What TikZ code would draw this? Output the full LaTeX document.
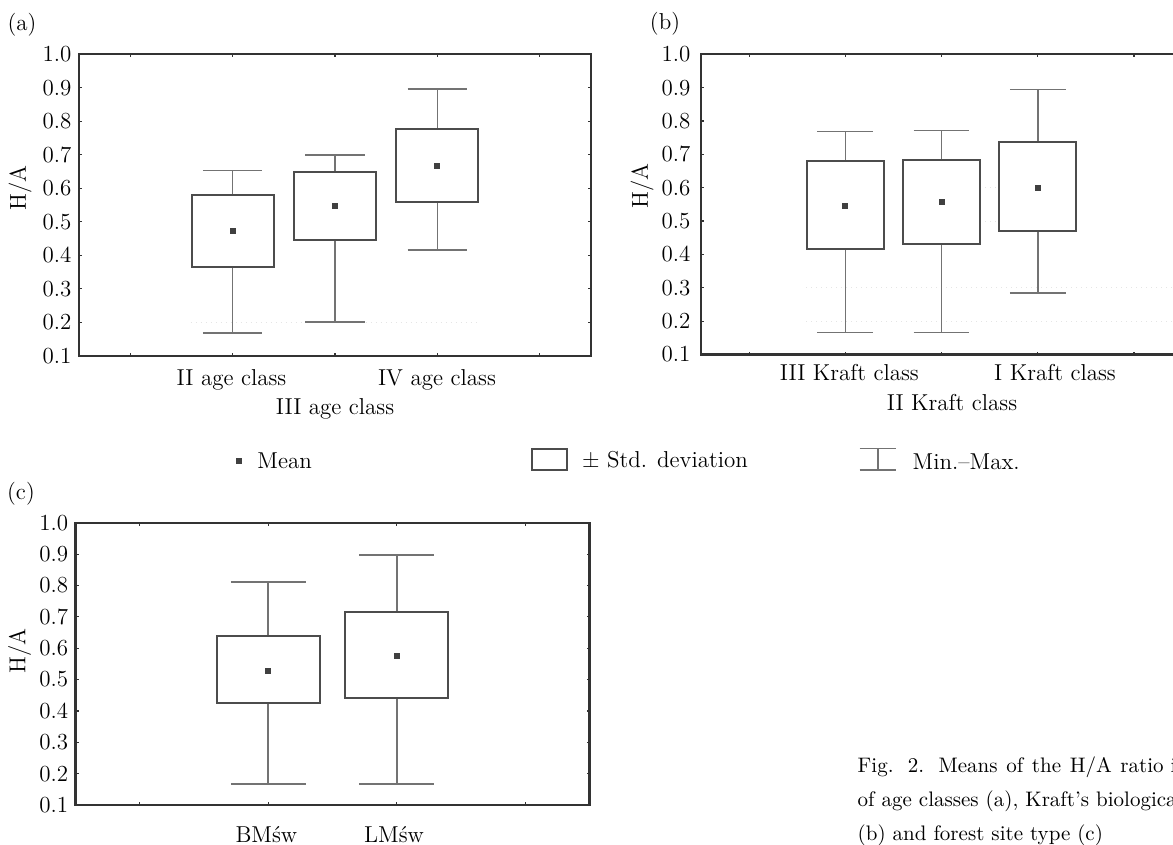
\documentclass[tikz,border=0pt]{standalone}
\usepackage{tikz}
\usetikzlibrary{positioning}

\begin{document}
\begin{tikzpicture}[%
    x=0.5pt,
    y=-0.5pt,
    every node/.style={inner sep=0pt, font=\fontsize{11.5}{14}\selectfont},
    axisframe/.style={draw=black!80, line width=1.1pt},
    tickmark/.style={draw=black!80, line width=0.6pt},
    sdbox/.style={draw=black!70, line width=1pt, fill=white},
    whisk/.style={draw=black!55, line width=0.8pt},
    meanmark/.style={fill=black!75},
    ghost/.style={draw=black!10, dotted, line width=0.5pt},
    capline/.style={anchor=base west, font=\fontsize{10.5}{12}\selectfont},
    panela/.style={shift={(27.8,389.2)}, x=51.2pt, y=167.45pt},
    panelb/.style={shift={(652.9,387.9)}, x=48.1pt, y=166.8pt},
    panelc/.style={shift={(11.25,836.4)}, x=64.25pt, y=156.83pt}
  ]
  \useasboundingbox (0,0) rectangle (1173,845);
  \clip (0,0) rectangle (1173,845);

  \foreach \p/\n/\gap [count=\j] in {panela/5/3.6, panelb/5/5.1, panelc/4/3.5} {
    \begin{scope}[\p]
      \draw[axisframe] (0.5,0.1) rectangle (\n+0.5,1.0);
      \foreach \k in {1,...,\n}
        \draw[tickmark] (\k,0.1) -- ++(0,1.5pt) (\k,1.0) -- ++(0,-1.5pt);
      \foreach \v in {0.2,0.3,0.4,0.5,0.6,0.7,0.8,0.9}
        \draw[tickmark] (0.5,\v) -- ++(1.5pt,0) (\n+0.5,\v) -- ++(-1.5pt,0);
      \foreach \v [count=\i] in {0.1,0.2,0.3,0.4,0.5,0.6,0.7,0.8,0.9,1.0}
        \node[anchor=east, xshift=-\gap pt] (y\j-\i) at (0.5,\v) {\v};
    \end{scope}
  }

  \begin{scope}[panela]
    \draw[ghost] (1.59,0.2) -- (4.41,0.2);
  \end{scope}
  \begin{scope}[panelb]
    \draw[ghost] (3.4,0.6) -- (3.6,0.6) (3.4,0.5) -- (3.6,0.5)
      (1.59,0.3) -- (5.5,0.3) (1.59,0.2) -- (5.5,0.2);
  \end{scope}

  \foreach \p/\k/\lo/\qa/\m/\qb/\hi in {
      panela/2/0.167/0.366/0.471/0.579/0.653,
      panela/3/0.200/0.446/0.548/0.649/0.700,
      panela/4/0.416/0.559/0.667/0.777/0.896,
      panelb/2/0.166/0.417/0.545/0.680/0.769,
      panelb/3/0.166/0.430/0.557/0.684/0.771,
      panelb/4/0.284/0.471/0.599/0.738/0.894,
      panelc/2/0.167/0.426/0.527/0.638/0.812,
      panelc/3/0.167/0.442/0.575/0.714/0.897} {
    \begin{scope}[\p]
      \draw[whisk] (\k-0.29,\lo) -- (\k+0.29,\lo) (\k,\lo) -- (\k,\hi)
        (\k-0.29,\hi) -- (\k+0.29,\hi);
      \draw[sdbox] (\k-0.4,\qa) rectangle (\k+0.4,\qb);
      \fill[meanmark] (\k,\m) ++(-1.5pt,-1.5pt) rectangle ++(3pt,3pt);
    \end{scope}
  }

  \node (taga) at (22,24.5) {(a)};
  \node (tagb) at (665,24) {(b)};
  \node (tagc) at (21,493.5) {(c)};

  \node[rotate=90] (ha) at (20,188) {H/A};
  \node[rotate=90] (hb) at (642,186) {H/A};
  \node[rotate=90] (hc) at (19.5,651) {H/A};

  \node[anchor=base] (a2) at (231.5,386) {II age class};
  \node[anchor=base] (a3) at (335,415) {III age class};
  \node[anchor=base] (a4) at (437,386) {IV age class};
  \node[anchor=base] (b2) at (849.3,380.7) {III Kraft class};
  \node[anchor=base] (b3) at (952,410) {II Kraft class};
  \node[anchor=base] (b4) at (1055,380.7) {I Kraft class};
  \node[anchor=base] (c2) at (266.4,842) {BMśw};
  \node[anchor=base] (c3) at (394,842) {LMśw};

  \fill[meanmark] (239.3,461) ++(-1.5pt,-1.5pt) rectangle ++(3pt,3pt);
  \node[anchor=base west] (lmean) at (257,468.3) {Mean};
  \draw[sdbox] (531.7,449) rectangle (567.3,470);
  \node[anchor=base west] (lsd) at (581.7,467.7) {± Std. deviation};
  \coordinate (mmtop) at (878,448.3);
  \coordinate (mmbot) at (878,470);
  \draw[whisk] ([xshift=-9.2pt]mmtop) -- ([xshift=9.2pt]mmtop) (mmtop) -- (mmbot)
    ([xshift=-9.2pt]mmbot) -- ([xshift=9.2pt]mmbot);
  \node[anchor=base west] (lmm) at (912.3,469.3) {Min.–Max.};

  \node[capline] (cap1) at (857.3,772) {\makebox[153pt][s]{Fig. 2. Means of the H/A ratio}\ in};
  \node[capline] (cap2) at (857.3,806.5) {of age classes (a), Kraft’s biological};
  \node[capline] (cap3) at (857.3,840) {(b) and forest site type (c)};
\end{tikzpicture}
\end{document}
